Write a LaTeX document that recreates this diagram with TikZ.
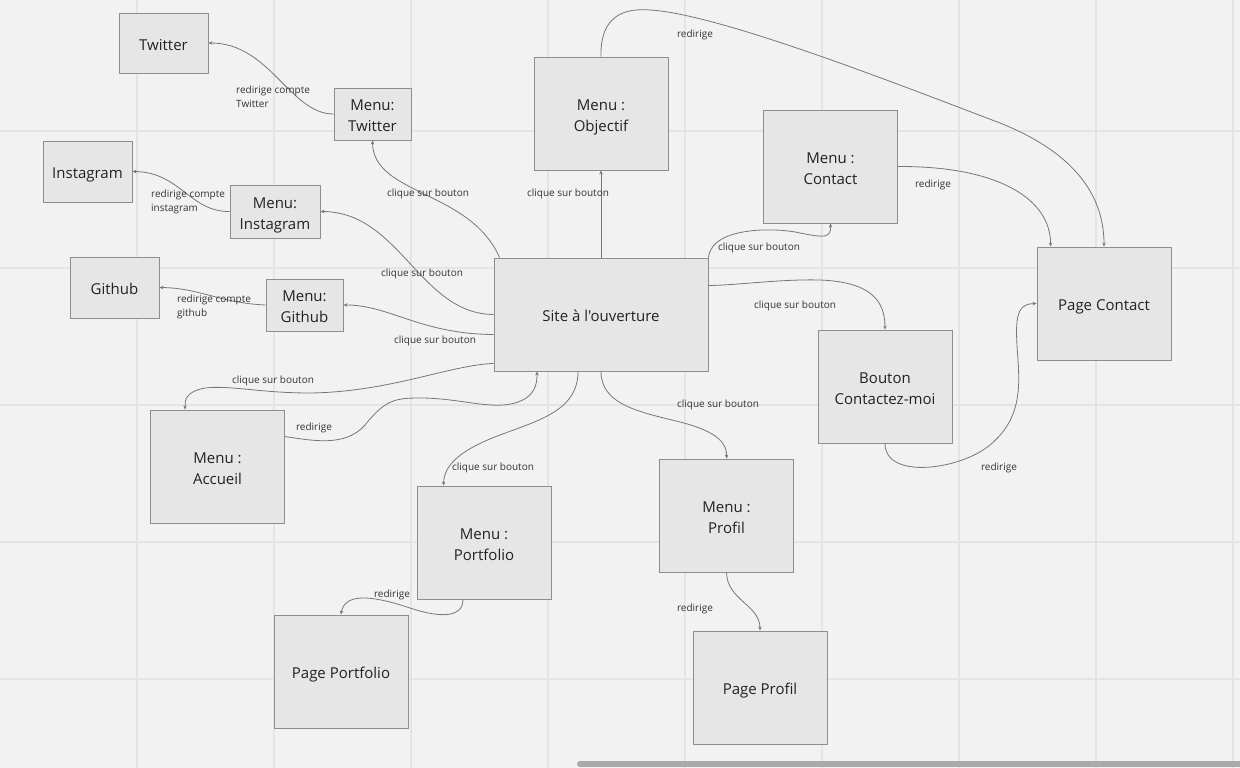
\documentclass[tikz,border=0pt]{standalone}
\usepackage{fontspec}
\setmainfont{Open Sans}[Ligatures=TeXOff]
\usetikzlibrary{arrows.meta,calc}
\definecolor{bgcol}{HTML}{F2F2F2}
\definecolor{gridcol}{HTML}{E4E4E4}
\definecolor{boxfill}{HTML}{E6E6E6}
\definecolor{boxline}{HTML}{8E8E8E}
\definecolor{txtcol}{HTML}{222222}
\definecolor{edgecol}{HTML}{777777}
\definecolor{lblcol}{HTML}{333333}
\definecolor{scrollcol}{HTML}{AAAAAA}
\newcommand{\bxt}[1]{\raisebox{-3pt}[\height][\depth]{\begin{tabular}{@{}c@{}}#1\end{tabular}}}
\tikzset{
  box/.style={draw=boxline, fill=boxfill, line width=0.9pt, inner sep=0pt, align=center,
    text=txtcol, font=\fontsize{15}{21}\selectfont},
  bigbox/.style={box, minimum width=134, minimum height=113},
  link/.style={draw=edgecol, line width=0.8pt, -{Stealth[length=4pt,width=3.5pt]}},
  lbl/.style={inner sep=0pt, text=lblcol, font=\fontsize{10}{14}\selectfont},
  lbll/.style={lbl, align=left, anchor=west},
}
\begin{document}
\begin{tikzpicture}[x=1pt,y=-1pt]
\useasboundingbox (0,0) rectangle (1240,768);
\fill[bgcol] (0,0) rectangle (1240,768);
\foreach \gx in {137,274,411,548,685,822,959,1096,1233}
  \draw[gridcol, line width=1.5pt] (\gx,0) -- (\gx,768);
\foreach \gy in {131,268,405,542,679}
  \draw[gridcol, line width=1.5pt] (0,\gy) -- (1240,\gy);

% nodes
\node[box, minimum width=89, minimum height=60] (tw) at (163.5,43) {\bxt{Twitter}};
\node[box, minimum width=77, minimum height=52] (mtw) at (372.5,114) {\bxt{Menu:\\Twitter}};
\node[box, minimum width=89, minimum height=61] (ins) at (87.5,171.5) {\bxt{Instagram}};
\node[box, minimum width=90, minimum height=53] (mins) at (275,211.5) {\bxt{Menu:\\Instagram}};
\node[box, minimum width=89, minimum height=61] (gh) at (114.5,287.5) {\bxt{Github}};
\node[box, minimum width=77, minimum height=52] (mgh) at (304.5,305) {\bxt{Menu:\\Github}};
\node[box, minimum width=214, minimum height=113] (site) at (601,314.5) {\bxt{Site à l'ouverture}};
\node[bigbox] (obj) at (601,113.5) {\bxt{Menu :\\Objectif}};
\node[bigbox] (con) at (830.5,166.5) {\bxt{Menu :\\Contact}};
\node[bigbox] (pc) at (1104,303.5) {\bxt{Page Contact}};
\node[bigbox] (bou) at (885,386.5) {\bxt{Bouton\\Contactez-moi}};
\node[bigbox] (acc) at (217.5,466.5) {\bxt{Menu :\\Accueil}};
\node[bigbox] (port) at (484,542.5) {\bxt{Menu :\\Portfolio}};
\node[bigbox] (prof) at (726.5,515.5) {\bxt{Menu :\\Profil}};
\node[bigbox] (pport) at (341,671.5) {\bxt{Page Portfolio}};
\node[bigbox] (pprof) at (760,687.5) {\bxt{Page Profil}};

% connectors
\draw[link] (mtw.west) .. controls (290,114) and (270,43) .. (tw.east);
\draw[link] ($(site.north west)+(6,0)$) .. controls (470,190) and (373,195) .. (mtw.south);
\draw[link] (site.west) .. controls (420,314) and (400,212) .. (mins.east);
\draw[link] (mins.west) .. controls (190,212) and (180,172) .. (ins.east);
\draw[link] ($(site.west)+(0,20)$) .. controls (420,334) and (390,305) .. (mgh.east);
\draw[link] (mgh.west) .. controls (220,303) and (200,288) .. (gh.east);
\draw[link] (site.north) -- (obj.south);
\draw[link] (obj.north) .. controls (600,15) and (625,8) .. (650,10)
  .. controls (720,14) and (905,87) .. (1000,123)
  .. controls (1080,155) and (1104,200) .. (pc.north);
\draw[link] (site.north east) .. controls (712,225) and (780,228) .. (800,233)
  .. controls (825,238) and (831,238) .. (con.south);
\draw[link] (con.east) .. controls (1000,166) and (1051,200) .. ($(pc.north west)+(14,0)$);
\draw[link] ($(site.north east)+(0,28)$) .. controls (740,285) and (780,279) .. (820,280)
  .. controls (870,282) and (885,300) .. (bou.north);
\draw[link] (bou.south) .. controls (885,480) and (960,470) .. (990,445)
  .. controls (1020,420) and (1020,390) .. (1018,360)
  .. controls (1015,320) and (1015,304) .. (pc.west);
\draw[link] ($(site.south west)+(0,-8)$) .. controls (450,365) and (390,392) .. (310,393)
  .. controls (260,393) and (230,385) .. (205,388)
  .. controls (185,392) and (185,400) .. ($(acc.north west)+(35,0)$);
\draw[link] ($(acc.north east)+(0,27)$) .. controls (310,440) and (345,448) .. (365,425)
  .. controls (385,400) and (395,398) .. (420,398)
  .. controls (460,398) and (490,410) .. (515,403)
  .. controls (535,397) and (537,385) .. ($(site.south)+(-64,0)$);
\draw[link] ($(site.south)+(-23,0)$) .. controls (578,410) and (540,420) .. (500,435)
  .. controls (460,450) and (444,465) .. ($(port.north west)+(27,0)$);
\draw[link] (site.south) .. controls (601,405) and (640,412) .. (680,422)
  .. controls (720,432) and (727,445) .. (prof.north);
\draw[link] ($(port.south)+(-21,0)$) .. controls (463,618) and (440,618) .. (410,608)
  .. controls (380,598) and (345,590) .. (pport.north);
\draw[link] (prof.south) .. controls (727,600) and (760,605) .. (pprof.north);

% labels
\node[lbll] (l1) at (236,97) {redirige compte\\Twitter};
\node[lbl] (l2) at (428,194) {clique sur bouton};
\node[lbl] (l3) at (422,274) {clique sur bouton};
\node[lbll] (l4) at (151,201.5) {redirige compte\\instagram};
\node[lbl] (l5) at (435,341) {clique sur bouton};
\node[lbll] (l6) at (177,306.5) {redirige compte\\github};
\node[lbl] (l7) at (568,194) {clique sur bouton};
\node[lbl] (l8) at (695,35) {redirige};
\node[lbl] (l9) at (759,248) {clique sur bouton};
\node[lbl] (l10) at (933,185) {redirige};
\node[lbl] (l11) at (795,306) {clique sur bouton};
\node[lbl] (l12) at (999,468) {redirige};
\node[lbl] (l13) at (273,381) {clique sur bouton};
\node[lbl] (l14) at (314,428) {redirige};
\node[lbl] (l15) at (493,468) {clique sur bouton};
\node[lbl] (l16) at (718,405) {clique sur bouton};
\node[lbl] (l17) at (392,595) {redirige};
\node[lbl] (l18) at (695,609) {redirige};

% scrollbar
\draw[scrollcol, line width=6pt, line cap=round] (580,764) -- (1250,764);
\end{tikzpicture}
\end{document}
